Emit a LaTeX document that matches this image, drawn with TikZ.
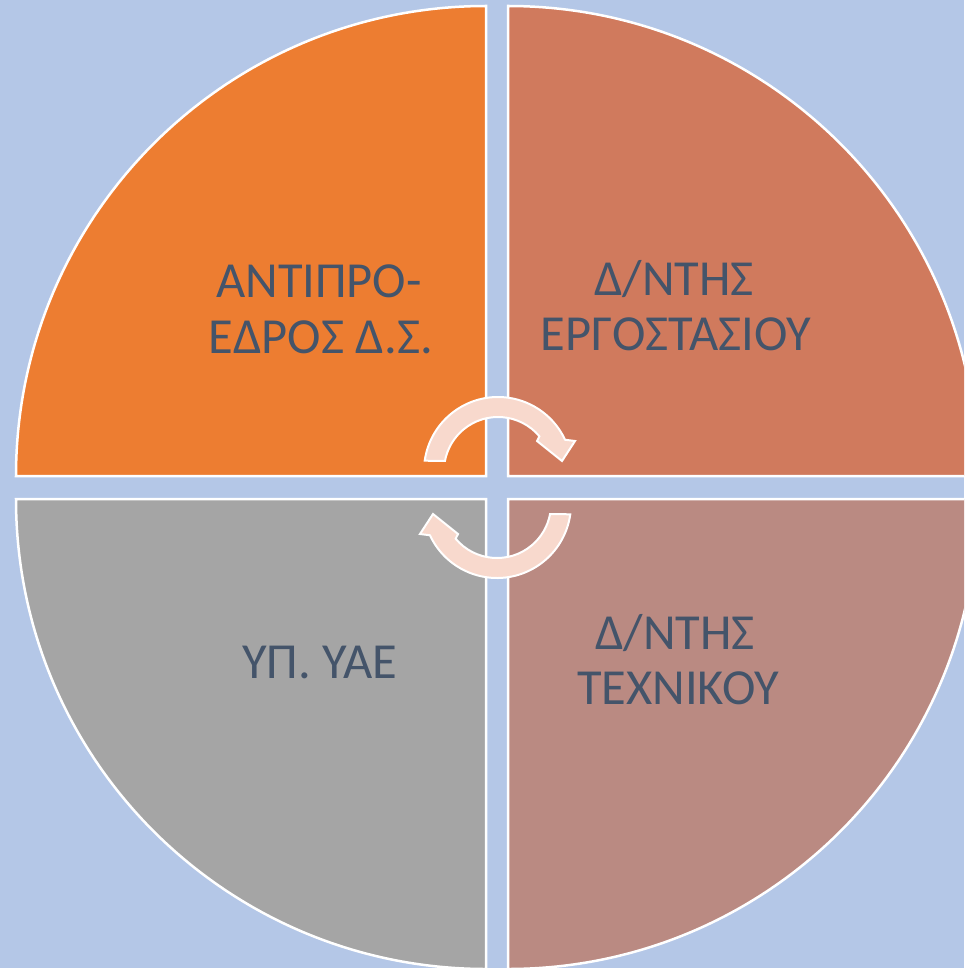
\documentclass[tikz,border=0pt]{standalone}
\usepackage{fontspec}
\setmainfont{Carlito}
\definecolor{bgblue}{HTML}{B4C7E7}
\definecolor{qorange}{HTML}{ED7D31}
\definecolor{qterra}{HTML}{D07A5D}
\definecolor{qrose}{HTML}{BA8A82}
\definecolor{qgray}{HTML}{A5A5A5}
\definecolor{arrowfill}{HTML}{F8D9CD}
\definecolor{txt}{HTML}{44546A}
\tikzset{
  quad/.style={draw=white, line width=2.5pt, line join=miter},
  label/.style={text=txt, font=\fontsize{50.5}{56}\selectfont, inner sep=0pt, anchor=base},
  circarrow/.style={fill=arrowfill, draw=white, line width=2pt, line join=miter}
}
\begin{document}
\begin{tikzpicture}[x=1pt, y=-1pt]
\useasboundingbox (0,0) rectangle (964,968);
\clip (0,0) rectangle (964,968);
\fill[bgblue] (0,0) rectangle (964,968);
% quadrants
\path[quad, fill=qorange] (486,476) -- ++(-470,0) arc[start angle=180, end angle=270, radius=470] -- cycle;
\path[quad, fill=qterra]  (508,476) -- ++(0,-470) arc[start angle=270, end angle=360, radius=470] -- cycle;
\path[quad, fill=qrose]   (508,499) -- ++(470,0) arc[start angle=0, end angle=90, radius=470] -- cycle;
\path[quad, fill=qgray]   (486,499) -- ++(0,470) arc[start angle=90, end angle=180, radius=470] -- cycle;
% circular arrows
\begin{scope}[shift={(498,471)}]
\path[circarrow] (188:74) arc[start angle=188, end angle=335, radius=74]
  -- (77,-30) -- (64,-10) -- (39,-30) -- (320:54)
  arc[start angle=320, end angle=190.7, radius=54] -- cycle;
\end{scope}
\begin{scope}[shift={(497,504)}, rotate=180]
\path[circarrow] (188:74) arc[start angle=188, end angle=335, radius=74]
  -- (77,-30) -- (64,-10) -- (39,-30) -- (320:54)
  arc[start angle=320, end angle=190.7, radius=54] -- cycle;
\end{scope}
% texts
\node[label] (tla) at (319,297) {ΑΝΤΙΠΡΟ-};
\node[label] (tlb) at (321,353) {ΕΔΡΟΣ Δ.Σ.};
\node[label] (tra) at (674,295) {Δ/ΝΤΗΣ};
\node[label] (trb) at (676,350) {ΕΡΓΟΣΤΑΣΙΟΥ};
\node[label] (bra) at (675,649) {Δ/ΝΤΗΣ};
\node[label] (brb) at (678,704) {ΤΕΧΝΙΚΟΥ};
\node[label] (bla) at (320,678) {ΥΠ. ΥΑΕ};
\end{tikzpicture}
\end{document}
